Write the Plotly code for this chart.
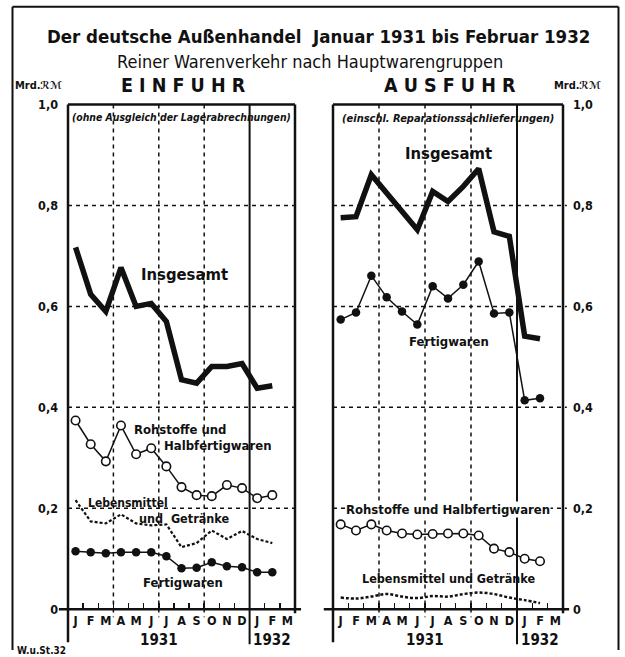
import plotly.graph_objects as go

# ---------------- data ----------------
months = ["J", "F", "M", "A", "M", "J", "J", "A", "S", "O", "N", "D", "J", "F", "M"]
years = ["1931", "1932"]
y_ticks = [0, 0.2, 0.4, 0.6, 0.8, 1.0]
y_ticktext = ["0", "0,2", "0,4", "0,6", "0,8", "1,0"]

imp_total = [0.717, 0.624, 0.590, 0.677, 0.600, 0.606, 0.570, 0.455, 0.448, 0.481, 0.481, 0.487, 0.438, 0.443]
imp_raw = [0.374, 0.327, 0.293, 0.364, 0.307, 0.319, 0.283, 0.242, 0.226, 0.224, 0.246, 0.240, 0.220, 0.226]
imp_food = [0.216, 0.174, 0.170, 0.188, 0.170, 0.166, 0.168, 0.123, 0.131, 0.156, 0.139, 0.155, 0.139, 0.131]
imp_fin = [0.115, 0.113, 0.111, 0.113, 0.113, 0.113, 0.105, 0.081, 0.082, 0.093, 0.085, 0.083, 0.073, 0.073]

exp_total = [0.776, 0.778, 0.861, 0.824, 0.787, 0.752, 0.828, 0.808, 0.838, 0.873, 0.748, 0.739, 0.541, 0.536]
exp_fin = [0.574, 0.588, 0.661, 0.618, 0.590, 0.564, 0.640, 0.616, 0.643, 0.689, 0.586, 0.588, 0.414, 0.418]
exp_raw = [0.168, 0.156, 0.168, 0.156, 0.150, 0.148, 0.149, 0.150, 0.150, 0.146, 0.120, 0.113, 0.100, 0.095]
exp_food = [0.023, 0.021, 0.025, 0.030, 0.025, 0.022, 0.026, 0.025, 0.030, 0.033, 0.030, 0.023, 0.018, 0.012]

xpos = [i + 0.5 for i in range(len(imp_total))]

# ---------------- geometry (target pixels) ----------------
W, H = 625, 657
LX0, LX1 = 68, 295
RX0, RX1 = 333, 563
Y0, Y1 = 608, 103
FONT = "DejaVu Sans Condensed, DejaVu Sans, sans-serif"
BLACK = "#111111"
# vertical calibration of the photographed page
VS, VO = 0.978, 6.3


def X(p):
    return p / W


def Yp(t):
    return 1 - ((t - VO) / VS) / H


def xm(x0, x1, m):
    return X(x0 + m * (x1 - x0) / 15)


def yv(v):
    return Yp(Y0 - v * (Y0 - Y1))


fig = go.Figure()


def add_line(xa, ya, y, width, dash="solid", marker=None, shape="linear"):
    kw = dict(x=xpos, y=y, xaxis=xa, yaxis=ya, showlegend=False, hoverinfo="skip",
              line=dict(color=BLACK, width=width, dash=dash, shape=shape))
    if marker == "open":
        kw["mode"] = "lines+markers"
        kw["marker"] = dict(symbol="circle", size=8.5, color="white", line=dict(color=BLACK, width=1.6))
    elif marker == "filled":
        kw["mode"] = "lines+markers"
        kw["marker"] = dict(symbol="circle", size=8.5, color=BLACK)
    else:
        kw["mode"] = "lines"
    fig.add_trace(go.Scatter(**kw))


# left panel
add_line("x", "y", imp_total, 5.5)
add_line("x", "y", imp_food, 2.2, dash="3px,2px")
add_line("x", "y", imp_raw, 1.5, marker="open")
add_line("x", "y", imp_fin, 1.5, marker="filled")
# right panel
add_line("x2", "y2", exp_total, 5.5)
add_line("x2", "y2", exp_fin, 1.5, marker="filled")
add_line("x2", "y2", exp_raw, 1.5, marker="open")
add_line("x2", "y2", exp_food, 2.5, dash="3px,2px", shape="spline")

shapes = []


def seg(x0, y0, x1, y1, width=1.5, dash="solid"):
    shapes.append(dict(type="line", xref="paper", yref="paper", x0=x0, y0=y0, x1=x1, y1=y1,
                       line=dict(color=BLACK, width=width, dash=dash), layer="below"))


for (a, b) in [(LX0, LX1), (RX0, RX1)]:
    for v in [0.2, 0.4, 0.6, 0.8]:
        seg(xm(a, b, 0), yv(v), xm(a, b, 15.25), yv(v), 1.5, "4px,4px")
    for m in [3, 6, 9]:
        seg(xm(a, b, m), yv(1.0), xm(a, b, m), Yp(Y0 + 8), 1.5, "4px,4px")
    seg(xm(a, b, 12), yv(1.0), xm(a, b, 12), Yp(643), 2)
    seg(xm(a, b, 0), yv(1.0), xm(a, b, 15), yv(1.0), 2.5)
    seg(xm(a, b, 0), yv(1.0), xm(a, b, 0), Yp(641), 2.5)
    seg(xm(a, b, 15), yv(1.0), xm(a, b, 15), Yp(Y0 + 4), 2.5)
    seg(xm(a, b, -0.6), yv(0), xm(a, b, 15.4), yv(0), 2.5)

# outer frame
seg(X(12.5), Yp(5), X(618.5), Yp(5), 2)
seg(X(12.5), Yp(5), X(12.5), 0, 2)
seg(X(618.5), Yp(5), X(618.5), 0, 2)

axis_common = dict(range=[0, 15], showgrid=False, zeroline=False, showline=False,
                   tickmode="array", tickvals=[i + 0.5 for i in range(15)],
                   ticktext=["<b>" + m + "</b>" for m in months],
                   ticks="", ticklabelstandoff=2,
                   tickfont=dict(family=FONT, size=12.5, color=BLACK),
                   minor=dict(tickmode="array", tickvals=list(range(1, 15)), ticks="inside",
                              ticklen=6, tickwidth=1.5, tickcolor=BLACK),
                   fixedrange=True)
yaxis_common = dict(range=[0, 1.0], showgrid=False, zeroline=False, showline=False,
                    tickmode="array", tickvals=y_ticks,
                    ticktext=["<b>" + t + "</b>" for t in y_ticktext], ticks="",
                    tickfont=dict(family=FONT, size=12.5, color=BLACK), fixedrange=True)

annotations = []


def ann(text, x, y, xref="paper", yref="paper", size=13, xanchor="center", bg=None, italic=False, bold=True):
    t = text
    if bold:
        t = "<b>" + t + "</b>"
    if italic:
        t = "<i>" + t + "</i>"
    d = dict(text=t, x=x, y=y, xref=xref, yref=yref, showarrow=False, xanchor=xanchor,
             yanchor="middle", font=dict(family=FONT, size=size, color=BLACK))
    if bg:
        d["bgcolor"] = bg
        d["borderpad"] = 0
    annotations.append(d)


ann("Der deutsche Außenhandel  Januar 1931 bis Februar 1932", X(318), Yp(35), size=18.5)
ann("Reiner Warenverkehr nach Hauptwarengruppen", X(310), Yp(60), size=18, bold=False)
ann("E I N F U H R", X(183), Yp(84), size=19.5)
ann("A U S F U H R", X(450), Yp(84), size=19.5)
ann("Mrd.<i>ℛℳ</i>", X(38), Yp(84), size=11)
ann("Mrd.<i>ℛℳ</i>", X(577), Yp(84), size=11)

ann("(ohne Ausgleich der Lagerabrechnungen)", 7.5, 0.975, "x", "y", size=10.4, italic=True)
ann("(einschl. Reparationssachlieferungen)", 7.5, 0.973, "x2", "y2", size=11, italic=True)

ann("Insgesamt", 7.7, 0.663, "x", "y", size=16.5)
ann("Rohstoffe und", 4.25, 0.357, "x", "y", size=13, xanchor="left")
ann("Halbfertigwaren", 6.2, 0.324, "x", "y", size=13, xanchor="left")
ann("Lebensmittel", 1.2, 0.211, "x", "y", size=12, xanchor="left")
ann("und  Getränke", 4.55, 0.180, "x", "y", size=12.5, xanchor="left")
ann("Fertigwaren", 7.6, 0.052, "x", "y", size=13)

ann("Insgesamt", 7.5, 0.903, "x2", "y2", size=16.5)
ann("Fertigwaren", 7.55, 0.531, "x2", "y2", size=13)
ann("Rohstoffe und Halbfertigwaren", 7.5, 0.197, "x2", "y2", size=13, bg="white")
ann("Lebensmittel und Getränke", 7.5, 0.061, "x2", "y2", size=12.5)

for xa in ["x", "x2"]:
    ann(years[0], 6, Yp(638.5), xa, "paper", size=15)
    ann(years[1], 13.5, Yp(638.5), xa, "paper", size=15)
ann("W.u.St.32", X(15), Yp(649), size=10, xanchor="left")

fig.update_layout(
    width=W, height=H, autosize=False,
    margin=dict(l=0, r=0, t=0, b=0),
    paper_bgcolor="white", plot_bgcolor="rgba(0,0,0,0)",
    xaxis=dict(domain=[X(LX0), X(LX1)], anchor="y", **axis_common),
    yaxis=dict(domain=[Yp(Y0), Yp(Y1)], anchor="x", side="left", ticklabelstandoff=9, **yaxis_common),
    xaxis2=dict(domain=[X(RX0), X(RX1)], anchor="y2", **axis_common),
    yaxis2=dict(domain=[Yp(Y0), Yp(Y1)], anchor="x2", side="right", ticklabelstandoff=9, **yaxis_common),
    shapes=shapes,
    annotations=annotations,
    font=dict(family=FONT, color=BLACK),
)

fig.write_html(
    "out.html",
    config={"displayModeBar": False, "staticPlot": True},
    post_script="document.body.style.margin='0';document.body.style.overflow='hidden';"
                "document.documentElement.style.overflow='hidden';",
)
